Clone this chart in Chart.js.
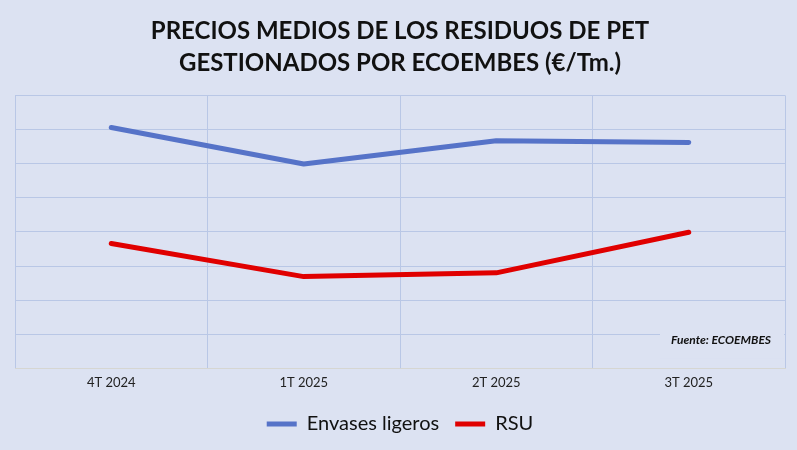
<!DOCTYPE html>
<html>
<head>
<meta charset="utf-8">
<script src="https://cdn.jsdelivr.net/npm/chart.js@4.4.1/dist/chart.umd.min.js"></script>
<style>
	html, body { margin: 0; padding: 0; background: #dce2f2; }
	#wrap { width: 797px; height: 450px; }
</style>
</head>
<body>
<div id="wrap"><canvas id="pet_chart"></canvas></div>
<script>
// Trimestres y precios medios (unidades de la rejilla, el original no muestra eje Y)
var quarters = ['4T 2024', '1T 2025', '2T 2025', '3T 2025'];
var envasesLigeros = [7.06, 5.99, 6.67, 6.62];
var rsu = [3.66, 2.69, 2.80, 3.99];
var yTicks = [0, 1, 2, 3, 4, 5, 6, 7, 8];

var FONT = "Lato, 'Open Sans', sans-serif";

function renderPetChart() {
	var ctx = document.getElementById('pet_chart').getContext('2d');

	window.petChart = new Chart(ctx, {
		type: 'line',
		data: {
			labels: quarters,
			datasets: [{
				label: 'Envases ligeros',
				data: envasesLigeros,
				borderColor: '#5673c8',
				backgroundColor: '#5673c8',
				borderWidth: 5,
				borderCapStyle: 'round',
				borderJoinStyle: 'round',
				pointRadius: 0,
				tension: 0
			}, {
				label: 'RSU',
				data: rsu,
				borderColor: '#e00000',
				backgroundColor: '#e00000',
				borderWidth: 5,
				borderCapStyle: 'round',
				borderJoinStyle: 'round',
				pointRadius: 0,
				tension: 0
			}]
		},
		options: {
			responsive: true,
			maintainAspectRatio: false,
			animation: false,
			layout: {
				padding: { left: 15, right: 12, top: 6, bottom: 6 }
			},
			scales: {
				x: {
					offset: true,
					grid: {
						offset: true,
						color: '#b9c7e6',
						lineWidth: 1,
						drawTicks: false
					},
					border: { display: true, color: '#d6d6d2' },
					ticks: {
						color: '#222',
						padding: 7,
						font: { family: FONT, size: 13 }
					}
				},
				y: {
					min: 0,
					max: 8,
					afterFit: function (scale) { scale.width = 0; },
					afterBuildTicks: function (scale) {
						scale.ticks = yTicks.map(function (v) { return { value: v }; });
					},
					grid: {
						color: '#b9c7e6',
						lineWidth: 1,
						drawTicks: false
					},
					border: { display: false },
					ticks: { display: false }
				}
			},
			plugins: {
				title: {
					display: true,
					text: ['PRECIOS MEDIOS DE LOS RESIDUOS DE PET', 'GESTIONADOS POR ECOEMBES (€/Tm.)'],
					color: '#111',
					font: { family: FONT, size: 24, weight: 'bold', lineHeight: 1.3 },
					padding: { top: 10, bottom: 17 }
				},
				legend: {
					display: true,
					position: 'bottom',
					labels: {
						color: '#111',
						boxWidth: 30,
						boxHeight: 5,
						padding: 16,
						font: { family: FONT, size: 20 },
						generateLabels: function (chart) {
							return Chart.defaults.plugins.legend.labels.generateLabels(chart).map(function (item) {
								item.lineWidth = 0;
								return item;
							});
						}
					}
				},
				tooltip: { enabled: false }
			}
		},
		plugins: [{
			id: 'fuenteLabel',
			beforeDraw: function (chart) {
				var c = chart.ctx;
				c.save();
				c.fillStyle = '#dce2f2';
				c.fillRect(0, 0, chart.width, chart.height);
				c.restore();
			},
			afterDatasetsDraw: function (chart) {
				var c = chart.ctx;
				var area = chart.chartArea;
				var y = chart.scales.y;
				// caja de la fuente tapa la rejilla
				c.save();
				c.fillStyle = '#dce2f2';
				c.fillRect(area.right - 125, y.getPixelForValue(1.2), 124, y.getPixelForValue(0.3) - y.getPixelForValue(1.2));
				c.font = "italic bold 12px " + FONT;
				c.fillStyle = '#111';
				c.textAlign = 'right';
				c.textBaseline = 'middle';
				c.fillText('Fuente: ECOEMBES', area.right - 14, y.getPixelForValue(0.82));
				c.restore();
			}
		}]
	});
}

renderPetChart();
</script>
</body>
</html>
